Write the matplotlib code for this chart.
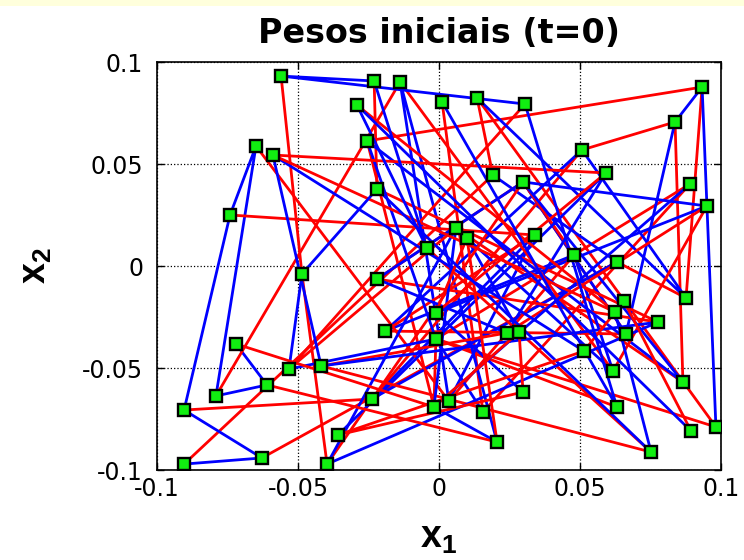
import matplotlib
matplotlib.use("Agg")
import matplotlib.pyplot as plt
from matplotlib.patches import Rectangle

# neuron weight positions (x1, x2), indices 1..61
px = [None,
      -0.0560, -0.0649, -0.0589, -0.0741, -0.0230, -0.0138, -0.0291, 0.0011, 0.0135, 0.0305,
      -0.0255, 0.0191, 0.0298, -0.0220, 0.0099, 0.0060, -0.0043, 0.0340, 0.0933, 0.0837,
      0.0507, 0.0592, 0.0890, 0.0950, 0.0479, 0.0631, -0.0486, -0.0720, -0.0532, -0.0418,
      -0.0610, -0.0791, -0.0904, -0.0358, -0.0628, -0.0904, -0.0397, -0.0220, -0.0011, -0.0191,
      -0.0011, 0.0284, 0.0241, -0.0238, -0.0018, 0.0035, 0.0156, 0.0206, 0.0298, 0.0876,
      0.0656, 0.0624, 0.0777, 0.0663, 0.0514, 0.0617, 0.0865, 0.0631, 0.0894, 0.0982,
      0.0752]
py = [None,
      0.0931, 0.0588, 0.0544, 0.0250, 0.0907, 0.0902, 0.0789, 0.0804, 0.0824, 0.0794,
      0.0613, 0.0446, 0.0412, 0.0377, 0.0137, 0.0186, 0.0088, 0.0152, 0.0877, 0.0706,
      0.0569, 0.0456, 0.0402, 0.0294, 0.0054, 0.0020, -0.0039, -0.0382, -0.0505, -0.0490,
      -0.0583, -0.0637, -0.0706, -0.0828, -0.0941, -0.0971, -0.0971, -0.0064, -0.0230, -0.0319,
      -0.0358, -0.0324, -0.0328, -0.0652, -0.0691, -0.0662, -0.0716, -0.0863, -0.0618, -0.0157,
      -0.0172, -0.0225, -0.0275, -0.0333, -0.0417, -0.0515, -0.0569, -0.0691, -0.0809, -0.0789,
      -0.0912]

# 8x8 map topology: which neuron sits at each grid node
grid = [
    [36, 12, 9, 60, 41, 23, 47, 8],
    [35, 26, 50, 19, 11, 45, 41, 58],
    [33, 44, 21, 20, 57, 16, 29, 10],
    [4, 18, 40, 54, 13, 37, 27, 1],
    [2, 46, 25, 13, 38, 53, 14, 5],
    [32, 6, 56, 24, 43, 30, 61, 17],
    [31, 48, 15, 39, 22, 3, 52, 7],
    [28, 45, 42, 49, 34, 55, 51, 59],
]

title = "Pesos iniciais (t=0)"
ticks = [-0.1, -0.05, 0, 0.05, 0.1]
tick_labels = ["-0.1", "-0.05", "0", "0.05", "0.1"]

plt.rcParams['font.family'] = ['DejaVu Sans']
plt.rcParams['mathtext.fontset'] = 'custom'
plt.rcParams['mathtext.rm'] = 'Liberation Sans:bold'
plt.rcParams['mathtext.it'] = 'Liberation Sans:bold'
plt.rcParams['mathtext.bf'] = 'Liberation Sans:bold'

fig = plt.figure(figsize=(7.44, 5.6), dpi=100)
fig.patches.append(Rectangle((0, 1 - 6 / 560), 1, 6 / 560, transform=fig.transFigure,
                             facecolor='#ffffdc', edgecolor='none', zorder=0))
ax = fig.add_axes([157 / 744, 1 - 470 / 560, 564 / 744, 408 / 560])

n = len(grid)
for i in range(n):
    # row neighbours (red)
    ax.plot([px[k] for k in grid[i]], [py[k] for k in grid[i]], color='#ff0000', lw=2.0, zorder=2)
    # column neighbours (blue)
    col = [grid[r][i] for r in range(n)]
    ax.plot([px[k] for k in col], [py[k] for k in col], color='#0000ff', lw=2.0, zorder=2)

ax.plot(px[1:], py[1:], linestyle='none', marker='s', markersize=8,
        markerfacecolor='#11ee11', markeredgecolor='black', markeredgewidth=1.7, zorder=3)

ax.set_xlim(-0.1, 0.1)
ax.set_ylim(-0.1, 0.1)
ax.set_xticks(ticks)
ax.set_xticklabels(tick_labels)
ax.set_yticks(ticks)
ax.set_yticklabels(tick_labels)
ax.tick_params(direction='in', length=5, width=1, labelsize=17, top=True, right=True)
ax.tick_params(axis='x', pad=5)
ax.tick_params(axis='y', pad=10)
ax.grid(True, linestyle=':', color='black', linewidth=0.9)
for s in ax.spines.values():
    s.set_linewidth(1.2)
ax.set_axisbelow(True)

ax.set_title(title, fontsize=24, fontweight='bold', pad=14)
ax.set_xlabel(r'$\mathbf{x_1}$', fontsize=27, labelpad=14)
ax.set_ylabel(r'$\mathbf{x_2}$', fontsize=27, labelpad=20)

fig.savefig('out.png', dpi=100)
